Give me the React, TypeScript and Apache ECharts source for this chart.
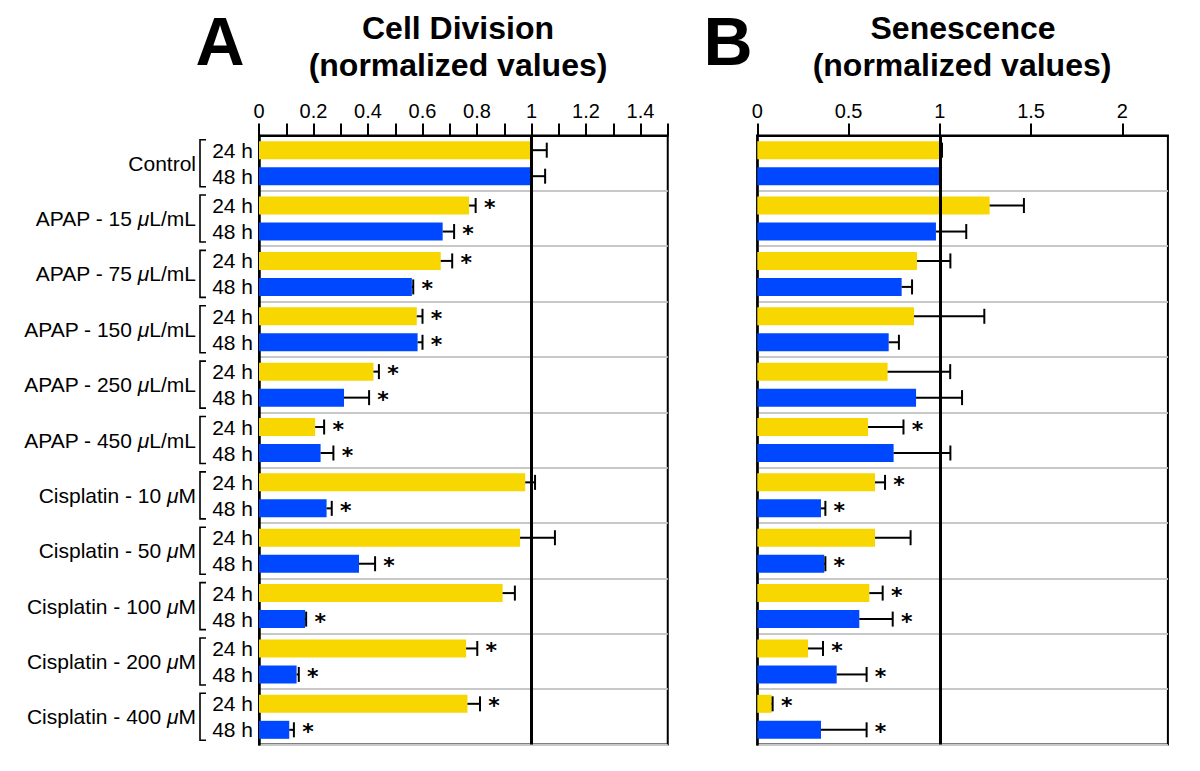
import React, { useEffect, useRef } from "react";
import * as echarts from "echarts";

// ---------- data ----------
const GROUPS = [
  "Control",
  "APAP - 15 μL/mL",
  "APAP - 75 μL/mL",
  "APAP - 150 μL/mL",
  "APAP - 250 μL/mL",
  "APAP - 450 μL/mL",
  "Cisplatin - 10 μM",
  "Cisplatin - 50 μM",
  "Cisplatin - 100 μM",
  "Cisplatin - 200 μM",
  "Cisplatin - 400 μM",
];
const TIMES = ["24 h", "48 h"];

// Panel A: Cell Division
const DIV_24 = [1.0, 0.771, 0.667, 0.579, 0.42, 0.206, 0.977, 0.958, 0.894, 0.76, 0.765];
const DIV_24_ERR = [0.056, 0.024, 0.042, 0.021, 0.02, 0.033, 0.036, 0.128, 0.045, 0.041, 0.046];
const DIV_24_SIG = [0, 1, 1, 1, 1, 1, 0, 0, 0, 1, 1];
const DIV_48 = [1.0, 0.674, 0.561, 0.582, 0.312, 0.226, 0.248, 0.367, 0.169, 0.138, 0.111];
const DIV_48_ERR = [0.05, 0.042, 0.005, 0.018, 0.092, 0.047, 0.019, 0.059, 0.004, 0.008, 0.017];
const DIV_48_SIG = [0, 1, 1, 1, 1, 1, 1, 1, 1, 1, 1];

// Panel B: Senescence
const SEN_24 = [1.0, 1.273, 0.875, 0.859, 0.714, 0.607, 0.645, 0.645, 0.614, 0.278, 0.079];
const SEN_24_ERR = [0.012, 0.188, 0.183, 0.385, 0.343, 0.194, 0.055, 0.195, 0.073, 0.082, 0.005];
const SEN_24_SIG = [0, 0, 0, 0, 0, 1, 1, 0, 1, 1, 1];
const SEN_48 = [1.0, 0.979, 0.791, 0.72, 0.87, 0.747, 0.349, 0.367, 0.559, 0.435, 0.349];
const SEN_48_ERR = [0, 0.166, 0.057, 0.056, 0.252, 0.311, 0.024, 0.006, 0.183, 0.164, 0.25];
const SEN_48_SIG = [0, 0, 0, 0, 0, 0, 1, 1, 1, 1, 1];

// Axis ticks / labels
const A_LABELS = [0, 0.2, 0.4, 0.6, 0.8, 1, 1.2, 1.4];
const A_TICKS = [0, 0.1, 0.2, 0.3, 0.4, 0.5, 0.6, 0.7, 0.8, 0.9, 1, 1.1, 1.2, 1.3, 1.4, 1.5];
const A_MAX = 1.5;
const B_LABELS = [0, 0.5, 1, 1.5, 2];
const B_TICKS = [0, 0.5, 1, 1.5, 2];
const B_MAX = 2.25;

const TITLE_A = ["Cell Division", "(normalized values)"];
const TITLE_B = ["Senescence", "(normalized values)"];

// ---------- style ----------
const FONT = "'Liberation Sans', Arial, Helvetica, sans-serif";
const STAR_FONT = "'DejaVu Sans', 'Liberation Sans', sans-serif";
const YELLOW = "#F8D700";
const BLUE = "#0048FF";
const BAR_W = 18;
const BAR_GAP_PX = 8;
const HALF_PITCH = (BAR_W + BAR_GAP_PX) / 2;
const CAP = 7.5;
const STAR_GAP = 14;
const STAR_DY = 2;
const STAR_SIZE = 22;

function errData(v24: number[], e24: number[], s24: number[], v48: number[], e48: number[], s48: number[]) {
  const out: number[][] = [];
  GROUPS.forEach((_, i) => {
    out.push([v24[i], i, e24[i], s24[i], -1]);
    out.push([v48[i], i, e48[i], s48[i], 1]);
  });
  return out;
}

function renderErr(params: any, api: any) {
  const v = api.value(0);
  const idx = api.value(1);
  const err = api.value(2);
  const sig = api.value(3);
  const slot = api.value(4);
  const base = api.coord([v, idx]);
  const end = api.coord([v + err, idx]);
  const y = base[1] + slot * HALF_PITCH;
  const children: any[] = [];
  if (err > 0) {
    children.push({
      type: "line",
      shape: { x1: base[0], y1: y, x2: end[0], y2: y },
      style: { stroke: "#000", lineWidth: 2 },
    });
    children.push({
      type: "line",
      shape: { x1: end[0], y1: y - CAP, x2: end[0], y2: y + CAP },
      style: { stroke: "#000", lineWidth: 2 },
    });
  }
  if (sig) {
    children.push({
      type: "text",
      x: end[0] + STAR_GAP,
      y: y + STAR_DY,
      style: {
        text: "*",
        fontSize: STAR_SIZE,
        fontWeight: "bold",
        fontFamily: STAR_FONT,
        fill: "#000",
        align: "center",
        verticalAlign: "middle",
      },
    });
  }
  return { type: "group", children };
}

function renderBracket(params: any, api: any) {
  const idx = api.value(1);
  const p = api.coord([0, idx]);
  const x0 = p[0] - 59;
  const x1 = p[0] - 53;
  const top = p[1] - 23.5;
  const bot = p[1] + 23.5;
  return {
    type: "polyline",
    shape: { points: [[x1, top], [x0, top], [x0, bot], [x1, bot]] },
    style: { stroke: "#000", lineWidth: 1.6, fill: null },
  };
}

function xAxisCfg(grid: number, max: number, ticks: number[], labels: number[]) {
  return {
    type: "value",
    gridIndex: grid,
    position: "top",
    min: 0,
    max,
    axisLine: { show: true, lineStyle: { color: "#000", width: 2 } },
    axisTick: { show: true, length: 12, lineStyle: { color: "#000", width: 2 }, customValues: ticks },
    axisLabel: { show: true, customValues: labels, fontSize: 20, color: "#000", fontFamily: FONT, margin: 15 },
    splitLine: { show: false },
  };
}

export default function App() {
  const ref = useRef<HTMLDivElement>(null);
  useEffect(() => {
    if (!ref.current) return;
    const chart = echarts.init(ref.current, null, { renderer: "svg" });

    const timeLabel = () => TIMES.map((t) => `{t|${t}}`).join("\n");
    const groupLabel = (val: string) => val.replace("μ", "{i|μ}");

    const splitLine = { show: true, interval: 0, lineStyle: { color: "#c8c8c8", width: 2 } };
    const titleStyle = { fontWeight: "bold", fontFamily: FONT, fill: "#000", align: "center", verticalAlign: "middle" };

    const option: any = {
      animation: false,
      backgroundColor: "#fff",
      textStyle: { fontFamily: FONT },
      grid: [
        { left: 259, top: 135.5, width: 408.75, height: 609, show: true, borderColor: "#000", borderWidth: 2, backgroundColor: "transparent" },
        { left: 757.3, top: 135.5, width: 410.6, height: 609, show: true, borderColor: "#000", borderWidth: 2, backgroundColor: "transparent" },
      ],
      xAxis: [xAxisCfg(0, A_MAX, A_TICKS, A_LABELS), xAxisCfg(1, B_MAX, B_TICKS, B_LABELS)],
      yAxis: [
        {
          type: "category",
          gridIndex: 0,
          data: GROUPS,
          inverse: true,
          axisLine: { show: true, lineStyle: { color: "#000", width: 2.5 } },
          axisTick: { show: false },
          axisLabel: {
            interval: 0,
            formatter: timeLabel,
            margin: 6,
            color: "#000",
            rich: { t: { fontSize: 21, lineHeight: 26, color: "#000", fontFamily: FONT, align: "right" } },
          },
          splitLine,
        },
        {
          type: "category",
          gridIndex: 0,
          data: GROUPS,
          inverse: true,
          position: "left",
          offset: 58,
          axisLine: { show: false },
          axisTick: { show: false },
          axisLabel: {
            interval: 0,
            formatter: groupLabel,
            margin: 5,
            fontSize: 21,
            color: "#000",
            fontFamily: FONT,
            rich: { i: { fontStyle: "italic", fontSize: 21, color: "#000", fontFamily: FONT } },
          },
          splitLine: { show: false },
        },
        {
          type: "category",
          gridIndex: 1,
          data: GROUPS,
          inverse: true,
          axisLine: { show: true, lineStyle: { color: "#000", width: 2.5 } },
          axisTick: { show: false },
          axisLabel: { show: false },
          splitLine,
        },
      ],
      graphic: [
        { type: "text", x: 220, y: 41, style: { text: "A", fontSize: 68, ...titleStyle } },
        { type: "text", x: 458, y: 28, style: { text: TITLE_A[0], fontSize: 32, ...titleStyle } },
        { type: "text", x: 458, y: 65, style: { text: TITLE_A[1], fontSize: 32, ...titleStyle } },
        { type: "text", x: 728, y: 41, style: { text: "B", fontSize: 68, ...titleStyle } },
        { type: "text", x: 963, y: 28, style: { text: TITLE_B[0], fontSize: 32, ...titleStyle } },
        { type: "text", x: 962, y: 65, style: { text: TITLE_B[1], fontSize: 32, ...titleStyle } },
      ],
      series: [
        {
          name: "A 24 h",
          type: "bar",
          xAxisIndex: 0,
          yAxisIndex: 0,
          data: DIV_24,
          barWidth: BAR_W,
          barGap: `${(BAR_GAP_PX / BAR_W) * 100}%`,
          itemStyle: { color: YELLOW },
        },
        {
          name: "A 48 h",
          type: "bar",
          xAxisIndex: 0,
          yAxisIndex: 0,
          data: DIV_48,
          barWidth: BAR_W,
          barGap: `${(BAR_GAP_PX / BAR_W) * 100}%`,
          itemStyle: { color: BLUE },
          markLine: {
            silent: true,
            symbol: "none",
            label: { show: false },
            lineStyle: { color: "#000", width: 3, type: "solid" },
            data: [{ xAxis: 1 }],
          },
        },
        {
          name: "A err",
          type: "custom",
          xAxisIndex: 0,
          yAxisIndex: 0,
          clip: false,
          z: 5,
          encode: { x: 0, y: 1 },
          renderItem: renderErr,
          data: errData(DIV_24, DIV_24_ERR, DIV_24_SIG, DIV_48, DIV_48_ERR, DIV_48_SIG),
        },
        {
          name: "A brackets",
          type: "custom",
          xAxisIndex: 0,
          yAxisIndex: 0,
          clip: false,
          encode: { x: 0, y: 1 },
          renderItem: renderBracket,
          data: GROUPS.map((_, i) => [0, i]),
        },
        {
          name: "B 24 h",
          type: "bar",
          xAxisIndex: 1,
          yAxisIndex: 2,
          data: SEN_24,
          barWidth: BAR_W,
          barGap: `${(BAR_GAP_PX / BAR_W) * 100}%`,
          itemStyle: { color: YELLOW },
        },
        {
          name: "B 48 h",
          type: "bar",
          xAxisIndex: 1,
          yAxisIndex: 2,
          data: SEN_48,
          barWidth: BAR_W,
          barGap: `${(BAR_GAP_PX / BAR_W) * 100}%`,
          itemStyle: { color: BLUE },
          markLine: {
            silent: true,
            symbol: "none",
            label: { show: false },
            lineStyle: { color: "#000", width: 3, type: "solid" },
            data: [{ xAxis: 1 }],
          },
        },
        {
          name: "B err",
          type: "custom",
          xAxisIndex: 1,
          yAxisIndex: 2,
          clip: false,
          z: 5,
          encode: { x: 0, y: 1 },
          renderItem: renderErr,
          data: errData(SEN_24, SEN_24_ERR, SEN_24_SIG, SEN_48, SEN_48_ERR, SEN_48_SIG),
        },
      ],
    };
    chart.setOption(option);
    return () => chart.dispose();
  }, []);
  return <div ref={ref} style={{ position: "fixed", left: 0, top: 0, width: 1200, height: 771, background: "#fff" }} />;
}
